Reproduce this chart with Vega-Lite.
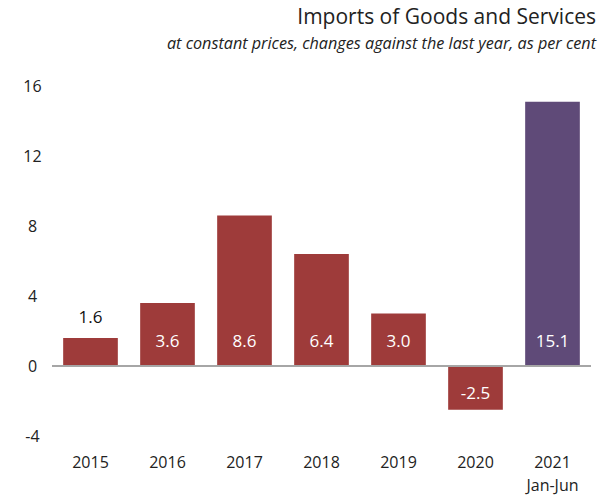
{
  "$schema": "https://vega.github.io/schema/vega-lite/v6.json",
  "width": 539,
  "height": 350,
  "autosize": {"type": "none"},
  "padding": {"left": 52, "top": 86, "right": 12, "bottom": 63},
  "background": "white",
  "config": {"view": {"stroke": null}, "font": "Open Sans"},
  "title": {
    "text": "Imports of Goods and Services",
    "subtitle": "at constant prices, changes against the last year, as per cent",
    "anchor": "end",
    "orient": "top",
    "frame": "group",
    "offset": 26,
    "font": "Open Sans",
    "fontSize": 21,
    "fontWeight": "normal",
    "color": "#222222",
    "subtitleFont": "Open Sans",
    "subtitleFontSize": 16.2,
    "subtitleFontStyle": "italic",
    "subtitleColor": "#222222",
    "subtitlePadding": 8,
    "dx": 5
  },
  "data": {
    "values": [
      {"year": "2015", "value": 1.6, "series": "annual"},
      {"year": "2016", "value": 3.6, "series": "annual"},
      {"year": "2017", "value": 8.6, "series": "annual"},
      {"year": "2018", "value": 6.4, "series": "annual"},
      {"year": "2019", "value": 3.0, "series": "annual"},
      {"year": "2020", "value": -2.5, "series": "annual"},
      {"year": "2021", "value": 15.1, "series": "half"}
    ]
  },
  "encoding": {
    "x": {
      "field": "year",
      "type": "nominal",
      "sort": null,
      "title": null,
      "scale": {"paddingInner": 0.29, "paddingOuter": 0.145},
      "axis": {
        "orient": "bottom",
        "domain": false,
        "ticks": false,
        "labelAngle": 0,
        "labelFontSize": 16,
        "labelColor": "#222222",
        "labelPadding": 18,
        "labelLineHeight": 23,
        "labelExpr": "datum.value == '2021' ? ['2021', 'Jan-Jun'] : datum.value"
      }
    }
  },
  "layer": [
    {
      "mark": {"type": "bar"},
      "encoding": {
        "y": {
          "field": "value",
          "type": "quantitative",
          "scale": {"domain": [-4, 16], "nice": false},
          "title": null,
          "axis": {
            "values": [-4, 0, 4, 8, 12, 16],
            "domain": false,
            "ticks": false,
            "grid": false,
            "labelFontSize": 16,
            "labelColor": "#222222",
            "labelPadding": 20,
            "labelAlign": "center",
            "labelExpr": "replace(datum.label, '\u2212', '-')"
          }
        },
        "color": {
          "field": "series",
          "type": "nominal",
          "scale": {"domain": ["annual", "half"], "range": ["#9e3b3a", "#5f4a78"]},
          "legend": null
        }
      }
    },
    {
      "mark": {"type": "rule", "color": "#a6a6a6", "strokeWidth": 1.5},
      "encoding": {"y": {"datum": 0}, "x": null}
    },
    {
      "transform": [
        {"calculate": "datum.value < 0 ? datum.value / 2 - 0.35 : (datum.value < 2 ? datum.value + 1.15 : 1.37)", "as": "labelPos"},
        {"calculate": "replace(format(datum.value, '.1f'), '\u2212', '-')", "as": "label"}
      ],
      "mark": {"type": "text", "fontSize": 17, "baseline": "middle"},
      "encoding": {
        "y": {"field": "labelPos", "type": "quantitative"},
        "text": {"field": "label", "type": "nominal"},
        "color": {
          "condition": {"test": "datum.value < 2 && datum.value > 0", "value": "#111111"},
          "value": "white"
        }
      }
    }
  ]
}
